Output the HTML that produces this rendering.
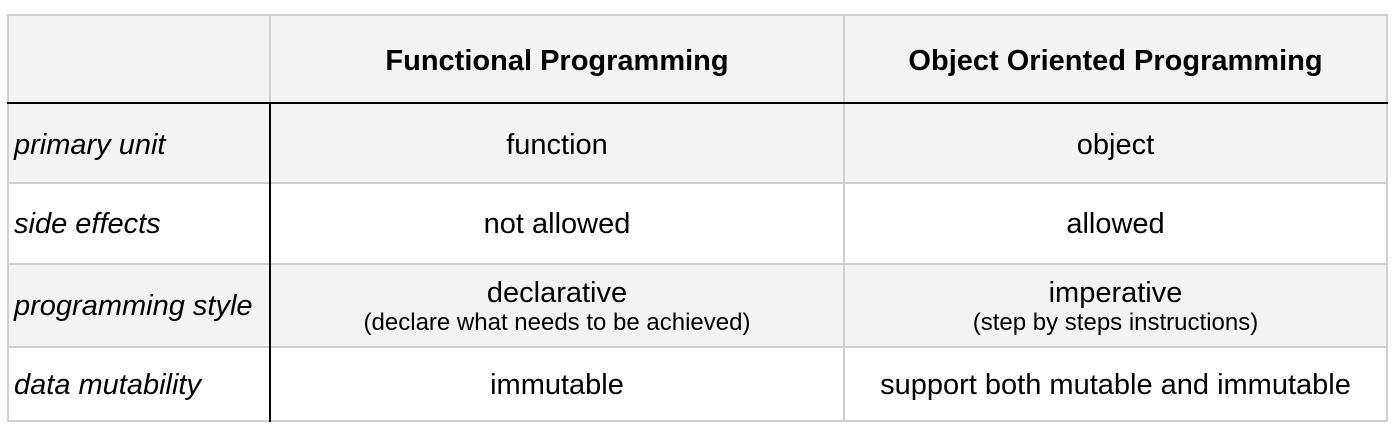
<!DOCTYPE html>
<html><head><style>
body{margin:0;width:1400px;height:434px;background:#fff;position:relative;font-family:"Liberation Sans",Arial,sans-serif;overflow:hidden}
.c{position:absolute;display:flex;flex-direction:column;justify-content:center;align-items:center;font-size:29px;color:#000;box-sizing:border-box;text-align:center;line-height:1.08;padding-top:3px}
.l{align-items:flex-start;padding-left:6px;font-style:italic}
.g{background:#f3f3f3}
.h{font-weight:bold;font-size:29px;padding-top:6px}
.s{font-size:24px}
.hl{position:absolute;height:2px;background:#cfcfcf}
.vl{position:absolute;width:2px;background:#cfcfcf}
</style></head><body>
<div class="c g" style="left:8px;top:15px;width:1379px;height:88px"></div>
<div class="c g h" style="left:270px;top:15px;width:574px;height:88px">Functional Programming</div>
<div class="c g h" style="left:844px;top:15px;width:543px;height:88px">Object Oriented Programming</div>
<div class="c g" style="left:8px;top:103px;width:1379px;height:80px"></div>
<div class="c l" style="left:8px;top:104px;width:262px;height:80px">primary unit</div>
<div class="c" style="left:270px;top:104px;width:574px;height:80px">function</div>
<div class="c" style="left:844px;top:104px;width:543px;height:80px">object</div>
<div class="c l" style="left:8px;top:183px;width:262px;height:81px">side effects</div>
<div class="c" style="left:270px;top:183px;width:574px;height:81px">not allowed</div>
<div class="c" style="left:844px;top:183px;width:543px;height:81px">allowed</div>
<div class="c g" style="left:8px;top:264px;width:1379px;height:83px"></div>
<div class="c l" style="left:8px;top:264px;width:262px;height:83px">programming style</div>
<div class="c" style="left:270px;top:264px;width:574px;height:83px">declarative<span class="s">(declare what needs to be achieved)</span></div>
<div class="c" style="left:844px;top:264px;width:543px;height:83px">imperative<span class="s">(step by steps instructions)</span></div>
<div class="c l" style="left:8px;top:347px;width:262px;height:74px">data mutability</div>
<div class="c" style="left:270px;top:347px;width:574px;height:74px">immutable</div>
<div class="c" style="left:844px;top:347px;width:543px;height:74px">support both mutable and immutable</div>
<div class="hl" style="left:7px;top:14px;width:1381px"></div>
<div class="hl" style="left:7px;top:182px;width:1381px"></div>
<div class="hl" style="left:7px;top:263px;width:1381px"></div>
<div class="hl" style="left:7px;top:346px;width:1381px"></div>
<div class="hl" style="left:7px;top:420px;width:1381px"></div>
<div class="vl" style="left:7px;top:14px;height:408px"></div>
<div class="vl" style="left:1386px;top:14px;height:408px"></div>
<div class="vl" style="left:843px;top:14px;height:408px"></div>
<div class="vl" style="left:269px;top:14px;height:89px"></div>
<div class="vl" style="left:269px;top:103px;height:319px;background:#000"></div>
<div class="hl" style="left:7px;top:102px;width:1381px;background:#000"></div>
</body></html>
